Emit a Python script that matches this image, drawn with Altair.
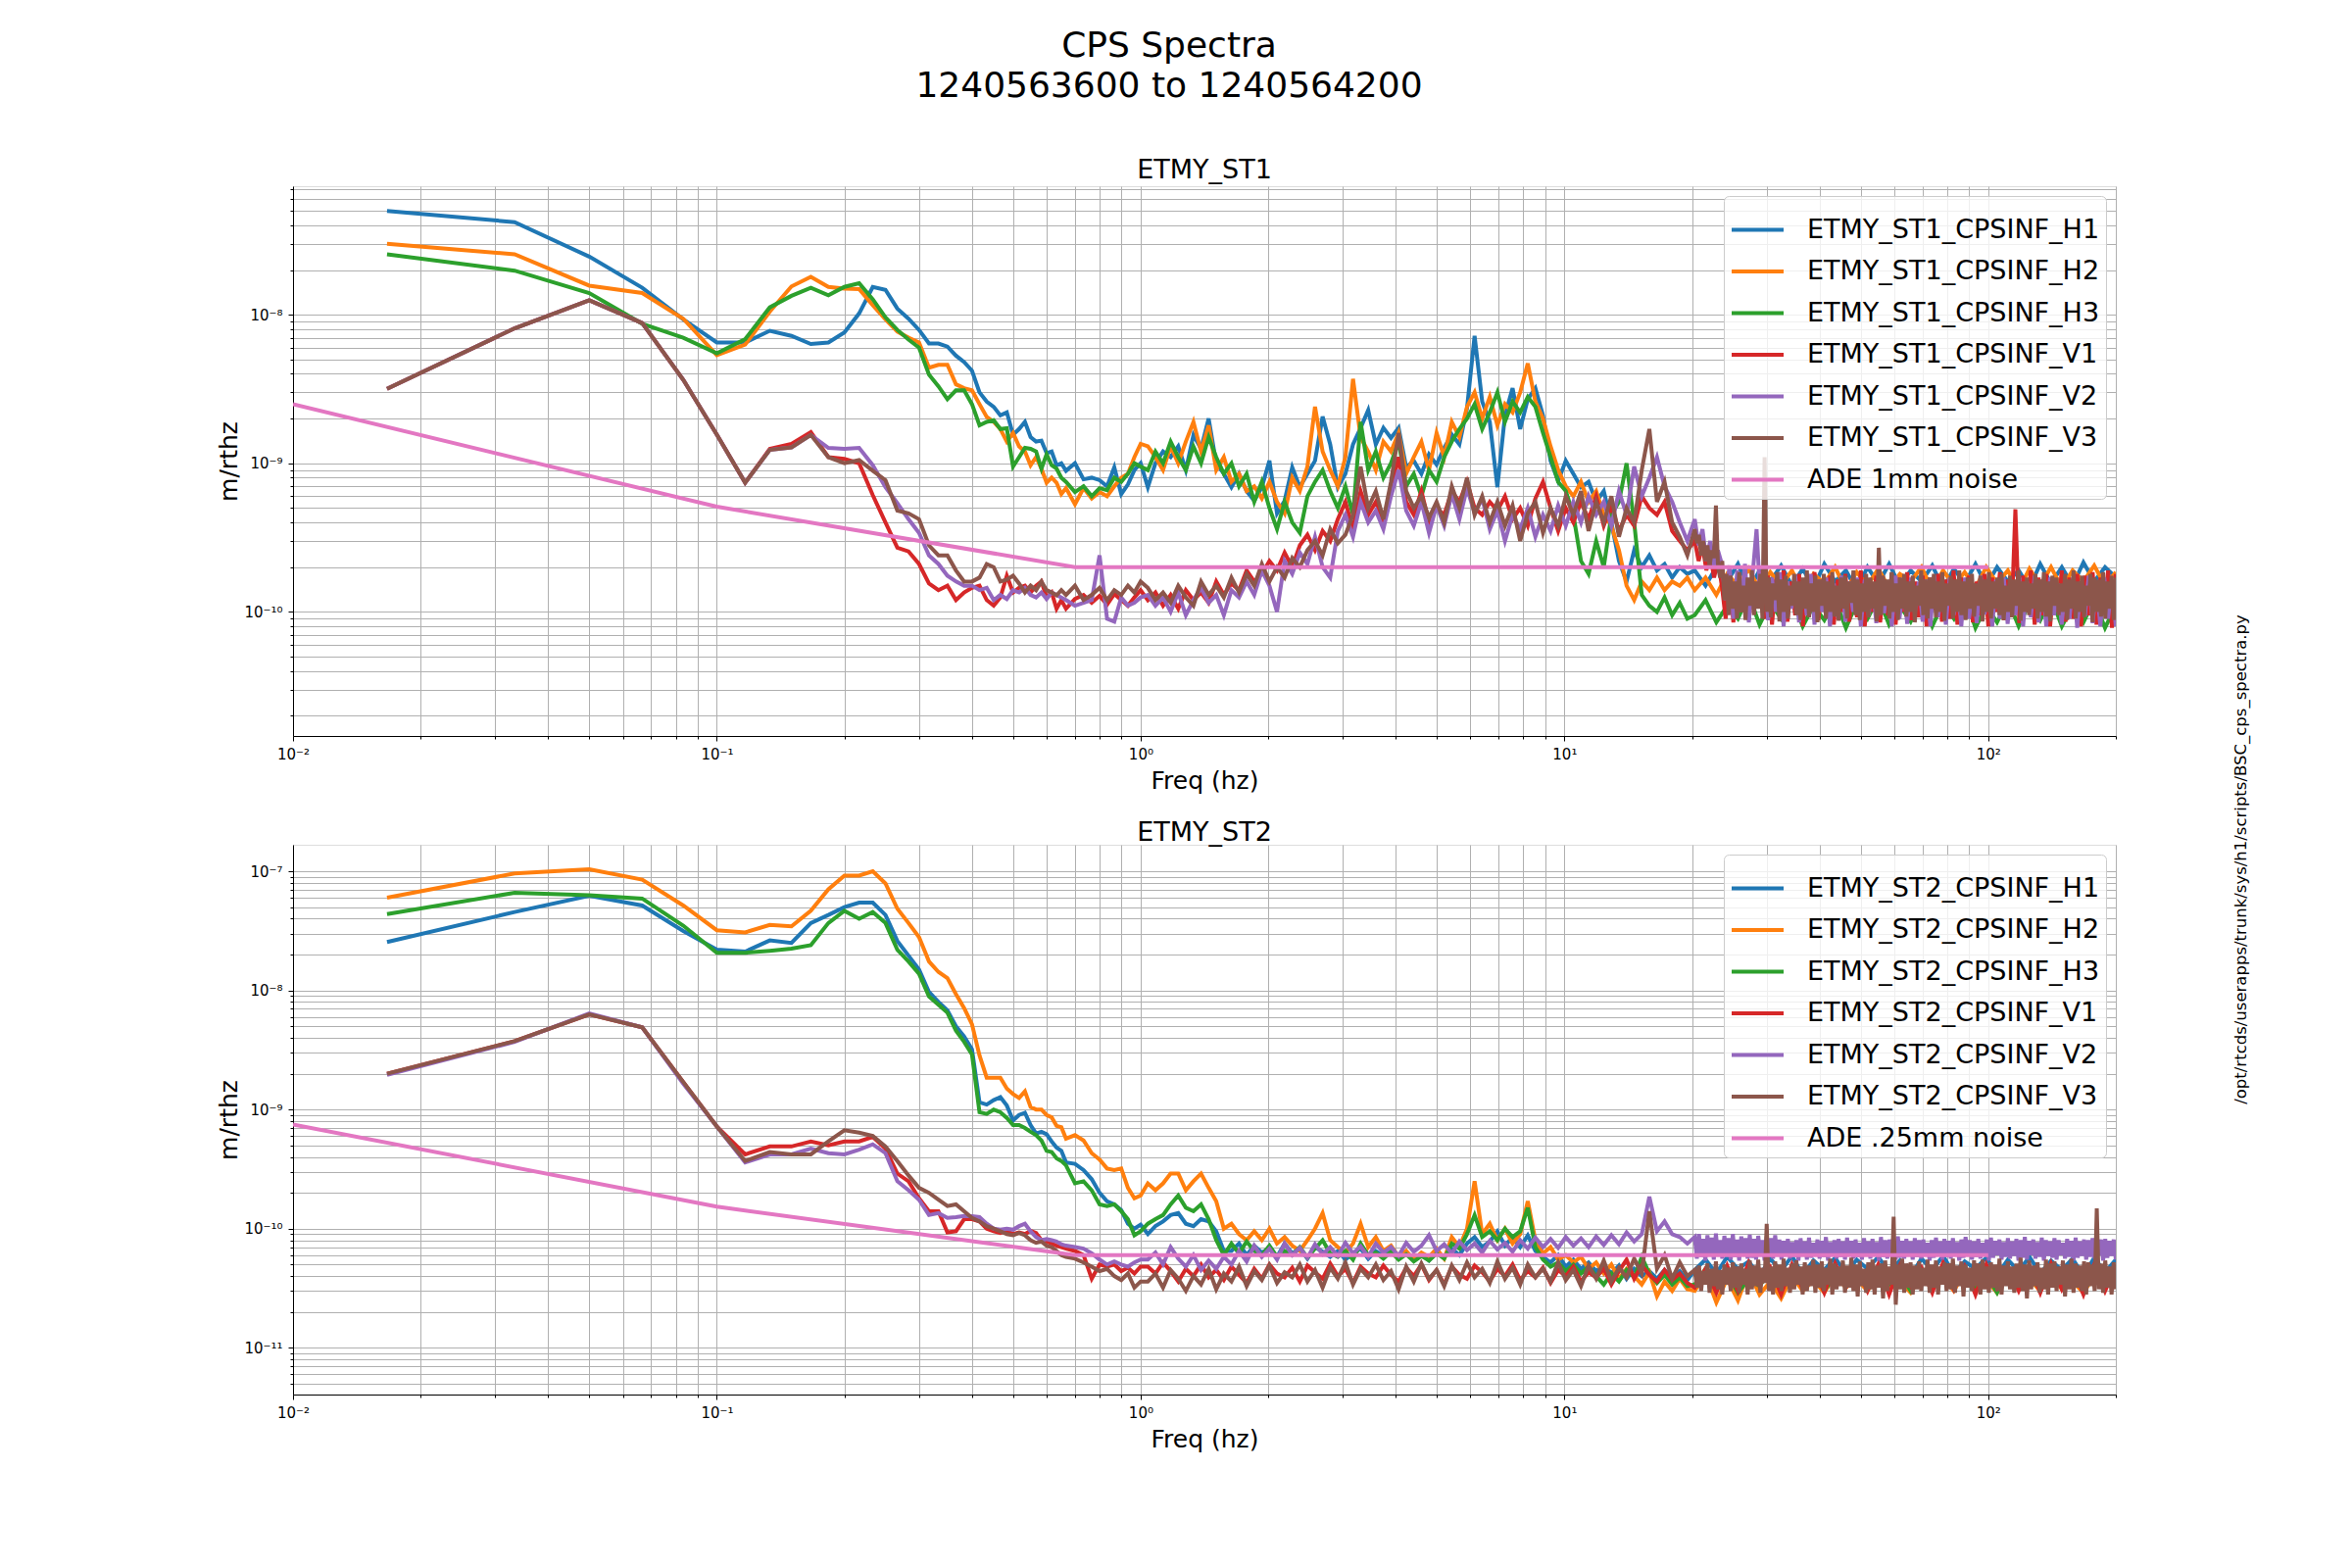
import altair as alt
import numpy as np
import pandas as pd

FONT = "DejaVu Sans"
TITLE_LINES = ["CPS Spectra", "1240563600 to 1240564200"]
SCRIPT_PATH = "/opt/rtcds/userapps/trunk/sys/h1/scripts/BSC_cps_spectra.py"
COLORS = ["#1f77b4", "#ff7f0e", "#2ca02c", "#d62728", "#9467bd", "#8c564b", "#e377c2"]

ST1_NAMES = ["ETMY_ST1_CPSINF_H1", "ETMY_ST1_CPSINF_H2", "ETMY_ST1_CPSINF_H3",
             "ETMY_ST1_CPSINF_V1", "ETMY_ST1_CPSINF_V2", "ETMY_ST1_CPSINF_V3", "ADE 1mm noise"]
ST2_NAMES = ["ETMY_ST2_CPSINF_H1", "ETMY_ST2_CPSINF_H2", "ETMY_ST2_CPSINF_H3",
             "ETMY_ST2_CPSINF_V1", "ETMY_ST2_CPSINF_V2", "ETMY_ST2_CPSINF_V3", "ADE .25mm noise"]

# frequency bins: 1/60 Hz resolution up to 0.667 Hz, then every 1/30 Hz up to 1 Hz
FREQ_A = [k / 60 for k in range(1, 41)] + [k / 30 for k in range(21, 31)]
B_RANGE = (1.04, 19.5)    # mid band, log-spaced samples
C_RANGE = (20.3, 200.0)   # high band, log-spaced samples

# ---------------- ETMY_ST1 (values in units of 1e-10 m/rthz) ----------------
ST1_H1_A = [500, 420, 246, 152, 93, 65, 65, 78, 72, 63.5, 65, 76, 102, 154, 147, 110, 94, 79, 64, 64,
            61, 53, 48, 42, 30, 26, 24, 21, 22, 15.6, 17, 19, 15, 14, 14.2, 11.7, 12, 9.7, 10, 8.9,
            10, 7.8, 8, 7.7, 7, 9.4, 6.2, 7.2, 9, 10]
ST1_H2_A = [300, 255, 157, 140, 94, 53.5, 63, 105, 155, 180, 154, 150, 149, 116, 93, 77, 70, 65, 44, 46,
            46, 34, 32, 31, 25, 20.5, 19, 17, 14, 16, 13, 12, 9.7, 11, 9.2, 7.4, 8, 7.4, 6.2, 6.8,
            5.3, 6.8, 5.8, 6.4, 6, 7, 8, 8.5, 11, 13.5]
ST1_H3_A = [255, 198, 140, 87, 70, 55, 68.5, 112, 134, 152, 135, 154, 163, 127, 96, 79, 68, 60, 39.5, 33,
            27, 31, 31, 25, 18, 19, 19.5, 17, 17.2, 9.5, 11, 12.7, 12.5, 12, 9.2, 11.5, 9.7, 9.2, 8, 7.5,
            6.4, 7, 6, 6.8, 6.6, 8, 7.5, 8.5, 10, 9.5]
ST1_V1_A = [31.7, 81, 125, 88, 36.5, 15.6, 7.4, 12.5, 13.5, 16.2, 11.0, 10.7, 10.0, 6.1, 4.0, 2.7, 2.55, 2.1, 1.55, 1.4,
            1.5, 1.2, 1.35, 1.45, 1.5, 1.2, 1.1, 1.25, 1.75, 1.35, 1.45, 1.5, 1.35, 1.5, 1.6, 1.25, 1.35, 1.05, 1.2, 1.05,
            1.22, 1.3, 1.15, 1.28, 1.12, 1.32, 1.2, 1.1, 1.25, 1.4]
ST1_V2_A = [31.7, 81, 125, 88, 36.5, 15.6, 7.4, 12.3, 12.8, 15.5, 12.7, 12.5, 12.7, 9.7, 6.9, 5.4, 4.2, 3.4, 2.4, 2.1,
            1.75, 1.6, 1.5, 1.5, 1.4, 1.45, 1.2, 1.3, 1.22, 1.4, 1.35, 1.45, 1.3, 1.25, 1.35, 1.22, 1.35, 1.3, 1.25, 1.2,
            1.1, 1.15, 1.2, 2.4, 0.9, 0.86, 1.25, 1.1, 1.15, 1.25]
ST1_V3_A = [31.7, 81, 125, 88, 36.5, 15.6, 7.4, 12.3, 12.8, 15.5, 11.0, 10.0, 10.5, 8.9, 7.7, 4.8, 4.6, 4.2, 2.8, 2.4,
            2.4, 1.9, 1.6, 1.6, 1.7, 2.1, 2.0, 1.6, 1.65, 1.75, 1.55, 1.35, 1.5, 1.4, 1.6, 1.4, 1.35, 1.29, 1.4, 1.3,
            1.5, 1.2, 1.3, 1.45, 1.2, 1.4, 1.3, 1.5, 1.35, 1.6]

ST1_H1_B = [6.9, 10, 12, 11, 13, 9, 15.5, 12.5, 20, 10, 8.5, 6.9, 8.5, 6.5, 5.6, 6.9, 10.4, 4.6, 5.6, 9.4,
            6.9, 8.5, 10.4, 20.6, 13.4, 6.9, 8.5, 13.4, 17.3, 22.8, 13.4, 17.3, 14.8, 17.3, 9.4, 10.4, 8.5, 11.5, 9.8, 12.7,
            15.6, 13.4, 23.4, 72, 26, 19, 6.9, 21, 32, 17, 27, 32, 21, 10.4, 7.6, 10.4, 8.5, 6.9, 7.5, 5.5,
            6.5, 4.0, 2.2, 1.6, 2.6, 2.0, 2.4, 1.9, 2.1, 1.7, 2.0, 1.8]
ST1_H2_B = [13, 11, 9, 13, 10, 14, 19, 12, 18, 9, 11, 7.5, 8.5, 6.5, 7.0, 5.8, 7.5, 5.5, 4.6, 8,
            6.5, 9.5, 24, 12, 9, 7, 11, 37, 15, 12, 9, 14, 12, 16, 8.5, 11, 14, 9, 16, 11,
            19, 15, 24, 30, 20, 28, 18, 25, 22, 30, 47, 26, 20, 13, 9, 7, 6, 7.5, 5.5, 6.5,
            4.5, 3.8, 2.6, 1.5, 1.2, 1.6, 1.4, 1.7, 1.4, 1.6, 1.5, 1.7]
ST1_H3_B = [9, 12, 10, 14, 11, 9, 13, 10, 15, 11, 8.5, 10, 7, 8.5, 5.5, 7.5, 5.0, 3.6, 5.5, 4.0,
            3.4, 6, 7.5, 9, 6.5, 5, 7, 4.5, 19, 9, 12, 8, 10, 14, 7, 8.5, 6, 9, 7.5, 11,
            14, 17, 20, 25, 17, 22, 30, 19, 26, 22, 28, 24, 16, 11, 7.5, 6.5, 4.5, 2.2, 1.8, 3.0,
            2.0, 4.5, 5.5, 10, 4, 1.3, 1.1, 1.0, 1.25, 0.95, 1.15, 0.9]
ST1_V1_B = [1.2, 1.35, 1.1, 1.3, 1.05, 1.4, 1.2, 1.35, 1.15, 1.6, 1.3, 1.55, 1.4, 1.9, 1.6, 1.8, 2.2, 1.9, 2.5, 2.0,
            2.8, 3.3, 2.6, 3.5, 3.0, 4.2, 5.5, 3.6, 6.5, 4.5, 5.5, 4.0, 6.5, 11, 5.5, 4.5, 6.5, 4.0, 5.0, 4.5,
            6.5, 5.5, 7.5, 5.0, 4.5, 5.5, 4.8, 6, 4.2, 5, 3.8, 5.8, 7.5, 5, 3.5, 5, 4, 5.5, 4.2, 6.0,
            3.8, 5.2, 3.5, 4.5, 3.8, 6, 5, 4.5, 5.5, 3.5, 3.0, 2.6]
ST1_V2_B = [1.3, 1.1, 1.25, 1.0, 1.35, 0.95, 1.2, 1.45, 1.15, 1.3, 0.95, 1.4, 1.25, 1.6, 1.3, 1.9, 1.5, 1.0, 2.2, 1.8,
            2.5, 2.1, 3.2, 2.0, 1.7, 3.5, 4.5, 3.2, 5.5, 4.0, 4.8, 3.6, 6.0, 9, 4.8, 3.8, 5.5, 3.4, 5.2, 3.8,
            6.2, 4.2, 6.8, 4.6, 5.8, 3.6, 4.8, 3.0, 4.5, 3.6, 5, 3.2, 4.5, 3.5, 5.2, 3.8, 5.5, 4.0, 6.0, 4.5,
            5.5, 3.8, 6.5, 4.5, 9.5, 6, 8, 11, 7, 5.5, 4.0, 3.0]
ST1_V3_B = [1.45, 1.2, 1.35, 1.15, 1.5, 1.25, 1.1, 1.6, 1.3, 1.5, 1.25, 1.7, 1.35, 1.8, 1.5, 2.1, 1.6, 2.0, 1.7, 2.3,
            2.0, 2.6, 3.0, 2.4, 3.6, 2.9, 3.3, 4.5, 9.5, 5.0, 6.5, 4.2, 7.5, 16, 6.5, 5.0, 6.0, 4.3, 5.5, 4.0,
            7.0, 5.0, 8.0, 4.5, 6.0, 4.0, 5.5, 3.8, 5.2, 3.0, 4.6, 5.5, 3.4, 5.0, 3.8, 6.0, 4.5, 6.5, 3.5, 5.5,
            4.0, 6.0, 3.2, 5.0, 4.0, 9.0, 17, 5.5, 7.5, 4.0, 3.2, 2.4]

ST1_H1_C = [1.9, 1.5, 2.0, 1.6, 2.1, 1.4, 1.9, 1.6, 2.05, 1.5, 1.95, 1.45, 2.1, 1.6, 1.9, 1.4, 2.0, 1.55, 2.1, 1.5,
            1.9, 1.6, 2.05, 1.45, 1.95, 1.55, 2.1, 1.5, 2.0, 1.6, 1.9, 1.45, 2.1, 1.55, 2.0, 1.5, 2.15, 1.6, 2.0, 1.7]
ST1_H2_C = [1.4, 1.7, 1.3, 1.8, 1.5, 1.95, 1.4, 1.85, 1.5, 1.9, 1.35, 1.8, 1.55, 2.0, 1.4, 1.85, 1.5, 1.95, 1.45, 1.8,
            1.6, 2.0, 1.4, 1.9, 1.5, 1.85, 1.45, 2.0, 1.55, 1.9, 1.4, 1.95, 1.5, 2.0, 1.45, 1.9, 1.6, 2.05, 1.5, 1.85]
ST1_H3_C = [0.95, 1.2, 0.85, 1.1, 0.9, 1.3, 0.82, 1.15, 0.9, 1.25, 0.8, 1.1, 0.88, 1.2, 0.78, 1.15, 0.9, 1.25, 0.82, 1.1,
            0.86, 1.2, 0.8, 1.15, 0.9, 1.3, 0.78, 1.1, 0.85, 1.2, 0.8, 1.15, 0.88, 1.25, 0.8, 1.1, 0.85, 1.2, 0.78, 1.1]
ST1_V1_C = [3.0, 2.2, 2.8, 1.9, 2.4, 1.7, 2.2, 1.5, 0.9, 1.8, 0.85, 1.7, 1.0, 1.85, 0.88, 1.6, 1.1, 1.9, 0.9, 1.75,
            0.82, 1.65, 1.0, 1.9, 0.86, 1.6, 0.95, 1.8, 0.8, 1.7, 1.05, 1.85, 0.88, 1.6, 0.95, 1.75, 0.82, 1.65, 1.0, 1.8,
            0.86, 1.7, 0.92, 1.9, 0.8, 1.6, 1.0, 1.75, 0.85, 1.65, 0.95, 1.8, 0.82, 1.7, 1.0, 1.85, 0.88, 1.6, 0.92, 1.75,
            0.8, 1.7, 1.02, 1.8, 0.86, 1.65, 0.9, 1.9, 0.82, 1.7, 1.0, 1.75, 0.85, 1.6, 0.95, 1.8, 0.8, 1.7, 1.0, 1.85,
            0.88, 1.65, 0.92, 4.9, 0.84, 1.75, 1.0, 1.9, 0.82, 1.7, 0.95, 1.8, 0.8, 1.65, 1.0, 1.9, 0.86, 1.7, 0.9, 1.8,
            0.8, 1.75, 0.95, 1.85, 0.82, 1.7, 1.0, 1.9, 0.78, 1.8]
ST1_V2_C = [4.2, 2.8, 3.6, 2.2, 3.0, 2.0, 2.6, 2.1, 1.2, 2.05, 0.9, 1.9, 1.1, 2.1, 0.85, 1.8, 3.6, 1.2, 1.9, 0.88,
            1.7, 1.0, 1.85, 0.8, 1.6, 1.05, 1.75, 0.85, 1.6, 0.95, 1.8, 0.82, 1.65, 1.0, 1.7, 0.8, 1.55, 0.92, 1.75, 0.86,
            1.6, 1.0, 1.7, 0.8, 1.65, 0.95, 1.55, 0.84, 1.7, 0.98, 1.6, 0.8, 1.75, 0.9, 1.55, 0.83, 1.7, 1.0, 1.6, 0.86,
            1.65, 0.8, 1.75, 0.92, 1.55, 0.82, 1.7, 0.95, 1.6, 0.8, 1.7, 0.9, 1.55, 0.84, 1.75, 0.96, 1.6, 0.8, 1.65, 0.9,
            1.7, 0.83, 1.55, 0.95, 1.7, 0.8, 1.6, 0.92, 1.75, 0.85, 1.6, 0.8, 1.7, 0.95, 1.55, 0.82, 1.65, 0.9, 1.7, 0.78,
            1.6, 0.93, 1.75, 0.84, 1.55, 0.8, 1.7, 0.9, 1.6, 0.8]
ST1_V3_C = [3.6, 2.9, 3.3, 2.4, 3.0, 2.2, 2.8, 2.0, 2.6, 2.3,
            5.2, 2.0, 1.7, 2.2, 1.2, 1.8, 0.95, 1.75, 1.05, 1.6,
            0.9, 1.85, 1.0, 1.5, 0.88, 1.7, 1.1, 1.9, 0.95, 1.6,
            1.05, 1.8, 0.9, 11.0, 1.0, 1.7, 0.92, 1.55, 1.2, 1.85,
            0.86, 1.65, 1.0, 1.75, 0.9, 1.5, 1.1, 1.8, 0.95, 1.6,
            0.88, 1.7, 1.05, 1.9, 0.92, 1.55, 1.0, 1.75, 0.85, 1.65,
            1.1, 1.8, 0.9, 1.6, 1.0, 1.85, 0.93, 1.5, 0.87, 1.7,
            1.05, 1.75, 0.9, 1.6, 1.15, 1.9, 0.95, 1.65, 0.88, 1.55,
            1.0, 1.8, 0.92, 1.7, 1.05, 1.6, 0.86, 2.7, 0.95, 1.75,
            1.1, 1.65, 0.9, 1.85, 1.0, 1.55, 0.88, 1.7, 1.05, 1.8,
            0.93, 1.6, 1.0, 1.75, 0.85, 1.5, 1.1, 1.9, 0.95, 1.65,
            0.9, 1.7, 1.05, 1.8, 0.92, 1.6, 1.0, 1.85, 0.87, 1.55,
            1.1, 1.75, 0.9, 1.65, 1.0, 1.9, 0.95, 1.6, 0.88, 1.7,
            1.05, 1.8, 0.93, 1.55, 1.1, 1.75, 0.86, 1.65, 1.0, 1.85,
            0.9, 1.6, 1.05, 1.7, 0.95, 1.8, 0.88, 1.5, 1.0, 1.75,
            0.92, 1.65, 1.1, 1.9, 0.87, 1.6, 1.0, 1.7, 0.95, 1.55,
            1.05, 1.8, 0.9, 1.65, 1.0, 1.85, 0.93, 1.6, 0.86, 1.75,
            1.1, 1.7, 0.95, 1.55, 1.0, 1.8, 0.88, 1.65, 1.05, 1.9,
            0.9, 1.6, 1.0, 1.75, 0.92, 1.5, 1.1, 1.8, 0.85, 1.7,
            1.0, 1.65, 0.93, 1.85, 0.9, 1.6, 1.05, 1.75, 0.88, 1.7]

# ---------------- ETMY_ST2 (values in units of 1e-11 m/rthz) ----------------
ST2_H1_A = [2550, 4550, 6240, 5160, 3150, 2200, 2120, 2630, 2500, 3680, 4300, 5000, 5460, 5460, 4300, 2600, 1960, 1500, 970, 800,
            680, 500, 410, 320, 115, 110, 120, 127, 108, 81, 90, 94, 74, 63, 65, 62, 54, 48, 45, 36,
            35, 31, 26, 20, 17, 16, 14.3, 11, 10, 10.8]
ST2_H2_A = [6000, 9600, 10400, 8500, 5160, 3200, 3070, 3550, 3450, 4660, 7070, 9200, 9200, 10000, 7900, 4850, 3680, 2800, 1750, 1430,
            1270, 930, 710, 520, 285, 185, 185, 185, 150, 135, 125, 142, 105, 100, 100, 90, 86, 73, 71, 57,
            61, 55, 43, 38, 32, 31, 32, 22, 18, 19]
ST2_H3_A = [4370, 6600, 6300, 5900, 3500, 2070, 2070, 2150, 2240, 2400, 3680, 4660, 4000, 4550, 3680, 2200, 1750, 1380, 890, 760,
            650, 460, 370, 290, 95, 92, 100, 95, 85, 74, 74, 70, 65, 61, 55, 45, 44, 39, 37, 34,
            24, 25, 21, 16, 15.5, 16, 14, 12, 8.8, 9.5]
ST2_V1_A = [200, 375, 630, 490, 170, 72, 42, 49, 49, 54, 50, 54, 54, 59, 47, 29, 25, 18, 14, 14,
            9.3, 9.5, 12, 12, 11.5, 10, 9.5, 9.2, 9.6, 9.0, 9.3, 9.0, 9.6, 9.2, 8.0, 7.8, 7.5, 7.2, 7.0, 6.8,
            6.5, 6.0, 3.8, 5.0, 4.8, 5.0, 4.4, 4.7, 4.2, 4.8]
ST2_V2_A = [195, 370, 640, 490, 165, 72, 36, 42, 42, 47, 43, 42, 46, 51, 43, 25, 21, 17.5, 13, 13.5,
            12.3, 12.5, 12.8, 12.7, 12.5, 11, 10, 9.8, 10, 9.8, 10.5, 11, 9.5, 8.5, 8.0, 8.2, 8.0, 7.8, 7.4, 7.2,
            7.0, 6.8, 6.2, 5.5, 5.0, 5.3, 5.0, 4.8, 5.2, 5.5]
ST2_V3_A = [200, 375, 630, 490, 170, 72, 37, 44, 42, 42, 54, 67, 64, 60, 49, 37, 28, 22, 20, 17.5,
            15.5, 16, 14, 12.3, 11.5, 10.5, 10, 9.5, 9.0, 8.8, 9.2, 8.8, 8.0, 7.6, 7.8, 7.2, 7.0, 6.5, 6.0, 5.8,
            5.6, 5.2, 4.8, 4.4, 4.6, 4.0, 3.7, 4.2, 3.2, 3.6]

ST2_H1_B = [9, 10.5, 11.5, 13, 13.5, 11, 10.5, 12, 11.5, 9.5, 6.5, 6.5, 7.5, 6, 7.2, 6.3, 6.8, 5.8, 7.5, 6.2,
            6.8, 5.6, 7, 6.4, 5.8, 6.5, 5.5, 6.2, 6.8, 5.6, 6.5, 5.9, 6.6, 5.7, 6.4, 5.5, 6.2, 5.4, 6.3, 5.8,
            6.8, 6, 7.5, 8.5, 7, 7.8, 9.5, 7.2, 8.5, 7, 8.8, 6.5, 5.8, 5.2, 6, 4.8, 5.5, 4.6, 5.2, 4.4,
            5, 4.2, 4.9, 3.8, 4.6, 4.0, 4.4, 3.8, 4.5, 3.9, 4.4, 3.7]
ST2_H2_B = [24, 21, 24, 29, 29, 21, 25, 29, 22, 17, 10, 11, 9, 8, 9.5, 8, 10, 7.5, 8.5, 7.2,
            6.5, 8, 10, 13.5, 8, 7, 6.3, 7.5, 11, 7, 8.5, 6.5, 7.2, 5.8, 6.5, 5.5, 6.3, 5.8, 6.8, 5.6,
            8.5, 7, 10, 25, 9, 11, 8, 10, 7.5, 9, 17, 8, 6.2, 7, 5.5, 6, 5.2, 5.8, 4.6, 5.2,
            4.2, 5, 3.8, 4.6, 4.0, 3.4, 4.3, 2.7, 3.6, 3.0, 3.8, 3.1]
ST2_H3_B = [11, 12, 13, 16, 19, 15, 14, 16, 12, 8, 6, 7.5, 6.2, 7.8, 6.5, 6, 7.2, 5.8, 6.5, 6,
            7, 5.7, 6.8, 8, 6.2, 5.8, 6.5, 5.5, 7.5, 6, 6.3, 5.6, 6.4, 5.5, 6.1, 5.3, 5.9, 5.4, 6.2, 5.6,
            7.5, 6.8, 9, 13, 8.5, 9.5, 8, 10, 8.5, 9.5, 15, 7, 5.5, 4.8, 5.2, 4.4, 5.0, 4.2, 4.8, 4.0,
            3.4, 4.2, 3.6, 4.5, 3.9, 5.8, 4.2, 3.5, 4.1, 3.4, 3.9, 3.3]
ST2_V1_B = [4.8, 4.2, 5.2, 4.4, 3.6, 4.6, 4.0, 5.0, 3.9, 4.5, 3.7, 4.8, 4.1, 3.5, 4.6, 3.8, 5.0, 4.2, 3.9, 4.7,
            3.6, 4.9, 4.3, 3.8, 5.1, 4.0, 4.6, 3.5, 4.8, 4.2, 3.9, 4.9, 4.1, 3.6, 4.7, 4.0, 5.0, 3.7, 4.5, 3.4,
            4.8, 4.1, 3.8, 4.9, 4.3, 3.6, 4.6, 4.0, 5.0, 3.7, 4.4, 3.9, 4.7, 3.5, 4.5, 4.0, 4.8, 3.6, 4.3, 3.9,
            4.6, 3.4, 4.4, 5.5, 3.8, 4.9, 4.1, 3.6, 4.5, 3.7, 4.2, 3.5]
ST2_V2_B = [5.5, 6.3, 5.0, 7.0, 5.6, 4.8, 6.0, 4.5, 5.4, 4.6, 5.8, 5.0, 6.5, 5.3, 7.2, 5.8, 6.8, 5.5, 7.5, 6.0,
            6.9, 5.7, 7.4, 6.1, 7.0, 5.9, 7.6, 6.2, 7.1, 5.8, 7.5, 6.3, 7.0, 5.9, 7.6, 6.4, 7.2, 8.8, 6.5, 7.4,
            6.2, 7.8, 6.6, 7.5, 6.3, 7.9, 6.7, 7.6, 6.4, 8.0, 6.8, 8.4, 7.0, 8.2, 6.9, 8.5, 7.2, 8.3, 7.0, 8.6,
            7.3, 8.8, 7.4, 9.3, 7.8, 9.0, 18.5, 9.5, 11.5, 9.0, 8.5, 7.5]
ST2_V3_B = [3.6, 4.2, 3.2, 4.5, 3.8, 3.0, 4.0, 3.4, 4.6, 3.1, 4.2, 3.6, 4.8, 3.3, 4.4, 3.7, 4.9, 3.5, 4.3, 3.9,
            5.0, 3.6, 4.5, 3.2, 4.7, 3.8, 5.2, 3.4, 4.6, 3.9, 5.0, 3.7, 4.4, 3.1, 4.8, 3.6, 5.1, 3.8, 4.5, 3.3,
            4.9, 3.7, 5.2, 3.9, 4.6, 3.5, 5.3, 3.8, 4.7, 3.4, 5.0, 3.9, 4.6, 3.6, 5.2, 3.7, 4.5, 3.3, 4.9, 3.8,
            5.4, 3.6, 4.7, 3.9, 5.6, 4.2, 14, 4.6, 6.0, 3.8, 5.2, 4.0]

ST2_H1_C = [4.5, 5.5, 4.2, 5.8, 4.6, 5.3, 4.0, 5.6, 4.4, 5.9, 4.1, 5.4, 4.5, 5.7, 4.2, 5.5, 4.6, 5.8, 4.3, 5.4,
            4.0, 5.6, 4.5, 5.9, 4.2, 5.3, 4.6, 5.7, 4.1, 5.5, 4.4, 5.8, 4.2, 5.4, 4.5, 5.6, 4.0, 5.7, 4.3, 5.5]
ST2_H2_C = [3.0, 4.2, 2.4, 3.8, 2.5, 4.4, 2.8, 3.6, 2.6, 4.0, 3.0, 3.7, 2.9, 4.1, 3.2, 3.8, 3.0, 4.2, 3.3, 3.6,
            2.9, 4.0, 3.1, 3.9, 3.0, 4.3, 3.2, 3.7, 2.9, 4.1, 3.3, 3.8, 3.0, 4.2, 3.1, 3.6, 2.9, 4.0, 3.2, 3.9]
ST2_H3_C = [3.4, 4.6, 3.0, 4.2, 2.9, 3.8, 3.3, 4.4, 3.1, 4.0, 3.4, 4.3, 3.0, 4.1, 3.3, 4.5, 3.1, 3.9, 3.4, 4.2,
            3.0, 4.4, 3.2, 4.0, 3.4, 4.3, 3.1, 4.1, 2.9, 4.5, 3.3, 4.0, 3.1, 4.2, 3.4, 4.4, 3.0, 4.1, 3.2, 4.3]
ST2_V1_C = [3.2, 4.6, 2.9, 4.9, 3.0, 5.2, 3.3, 4.7, 2.8, 5.0, 3.1, 4.8, 2.9, 5.1, 3.2, 4.6, 3.0, 5.0, 2.8, 4.9,
            3.3, 4.7, 2.9, 5.2, 3.1, 4.8, 2.8, 5.0, 3.2, 4.6, 3.0, 4.9, 2.9, 5.1, 3.1, 4.7, 2.8, 5.0, 3.0, 4.8]
ST2_V2_C = [8.5, 5.6, 9.0, 5.8, 8.2, 5.4, 8.8, 6.0, 8.4, 5.5,
            9.1, 5.9, 8.0, 5.6, 8.7, 6.1, 8.3, 5.5, 9.0, 5.8,
            8.1, 5.4, 8.6, 6.0, 8.3, 5.6, 8.9, 5.7, 8.2, 5.5,
            8.7, 6.0, 8.0, 5.4, 8.6, 5.8, 8.3, 5.6, 8.8, 5.9,
            8.1, 5.5, 7.9, 6.0, 8.2, 5.6, 7.7, 5.8, 8.0, 5.4,
            8.3, 5.9, 7.8, 5.5, 8.4, 5.7, 7.6, 6.0, 8.1, 5.6,
            7.9, 5.8, 8.5, 5.4, 7.7, 5.9, 8.0, 5.6, 8.2, 5.8,
            7.8, 5.5, 8.4, 6.0, 7.9, 5.6, 8.1, 5.8, 7.6, 5.5,
            8.3, 5.9, 7.8, 5.6, 8.2, 6.0, 7.7, 5.4, 8.5, 5.8,
            8.0, 5.6, 8.1, 5.9, 7.7, 5.5, 8.6, 5.7, 7.9, 5.6,
            8.2, 6.0, 7.8, 5.5, 8.3, 5.8, 8.0, 5.6, 8.1, 5.9,
            7.6, 5.4, 8.0, 5.7, 8.4, 6.0, 7.8, 5.5, 8.2, 5.8,
            7.9, 5.6, 8.3, 5.9, 7.7, 5.4, 8.1, 5.7, 8.5, 6.0,
            8.0, 5.5, 7.8, 5.8, 8.2, 5.6, 7.6, 5.9, 8.1, 5.4,
            8.4, 5.7, 7.9, 6.0, 8.1, 5.5, 7.7, 5.8, 8.3, 5.6,
            7.8, 5.9, 8.2, 5.4, 8.0, 5.7, 8.5, 5.5, 7.9, 6.0,
            8.1, 5.6, 7.7, 5.8, 8.4, 5.4, 8.0, 5.9, 7.8, 5.7,
            8.3, 5.5, 8.0, 6.0, 7.6, 5.6, 8.2, 5.8, 7.9, 5.4,
            8.4, 5.7, 7.8, 5.9, 8.1, 5.5, 8.0, 5.8, 8.3, 5.6,
            7.7, 6.0, 8.1, 5.4, 8.2, 5.7, 7.9, 5.9, 8.1, 5.5]
ST2_V3_C = [4.5, 3.2, 4.9, 3.0, 4.4, 3.4, 5.1, 2.9, 4.6, 3.3,
            5.3, 3.1, 4.5, 2.8, 5.0, 3.4, 4.7, 3.0, 5.2, 3.2,
            4.8, 2.9, 5.1, 3.4, 4.6, 2.8, 5.4, 3.1, 4.9, 3.3,
            5.5, 2.9, 4.7, 3.5, 11.0, 3.0, 4.8, 2.8, 5.3, 3.2,
            5.0, 3.0, 5.6, 3.3, 4.7, 2.9, 5.1, 3.1, 5.4, 3.4,
            4.8, 2.8, 5.2, 3.0, 4.9, 3.3, 5.5, 2.9, 5.0, 3.2,
            5.3, 3.0, 4.7, 3.4, 5.6, 2.8, 5.1, 3.1, 4.8, 3.3,
            5.4, 2.9, 4.9, 3.2, 5.7, 3.0, 5.0, 2.7, 5.3, 3.3,
            4.6, 2.9, 5.2, 3.1, 5.5, 2.8, 4.9, 3.2, 5.1, 2.6,
            5.4, 3.0, 4.8, 3.4, 12.6, 2.3, 5.0, 3.1, 5.6, 2.9,
            5.1, 3.2, 5.2, 2.8, 4.9, 3.1, 5.3, 3.0, 4.7, 3.3,
            5.5, 2.9, 5.0, 3.2, 5.4, 2.8, 4.8, 3.4, 5.2, 3.0,
            5.1, 3.1, 5.6, 2.9, 4.9, 3.3, 5.3, 2.7, 5.0, 3.2,
            4.7, 3.0, 5.4, 3.3, 5.1, 2.8, 5.5, 3.1, 4.8, 2.9,
            5.2, 3.2, 5.0, 3.0, 5.6, 2.8, 4.9, 3.3, 5.3, 3.1,
            4.8, 2.9, 5.1, 3.2, 5.7, 3.0, 5.0, 2.6, 5.4, 3.1,
            4.9, 3.3, 5.2, 2.9, 4.7, 3.1, 5.5, 2.8, 5.1, 3.2,
            5.3, 3.0, 4.8, 3.4, 5.4, 2.7, 5.0, 3.1, 5.6, 2.9,
            5.1, 3.2, 4.9, 3.0, 5.3, 2.8, 5.2, 3.3, 5.0, 3.0,
            14.8, 3.1, 5.1, 2.9, 5.4, 3.2, 4.8, 2.8, 5.2, 3.1]

# ADE noise requirement curves
ADE_F = [0.01, 0.1, 0.7, 100.0]
ADE_ST1 = [2.5e-9, 5.1e-10, 2.0e-10, 2.0e-10]
ADE_ST2 = [7.5e-10, 1.53e-10, 6.0e-11, 6.0e-11]

ST1_YDOM = [1.46e-11, 7.33e-8]
ST2_YDOM = [4.05e-12, 1.67e-7]
X_DOM = [0.01, 200.0]

PLOT_W, PLOT_H = 1860, 561
LINE_W = 4


def build(a, b, c, unit):
    f = FREQ_A[:len(a)] + list(np.geomspace(B_RANGE[0], B_RANGE[1], len(b))) \
        + list(np.geomspace(C_RANGE[0], C_RANGE[1], len(c)))
    v = [x * unit for x in list(a) + list(b) + list(c)]
    return f, v


SUP = str.maketrans("-0123456789", "⁻⁰¹²³⁴⁵⁶⁷⁸⁹")


def log_axis(lo, hi, title):
    vals, majors = [], []
    for e in range(-13, 4):
        for m in range(1, 10):
            v = float(f"{m}e{e}")
            if lo * 0.999 <= v <= hi * 1.001:
                vals.append(v)
                if m == 1:
                    majors.append((v, e))
    expr = " : ".join(f"datum.value == {v!r} ? '10{str(e).translate(SUP)}'" for v, e in majors) + " : ''"
    test = " || ".join(f"datum.value == {v!r}" for v, e in majors)
    return alt.Axis(values=vals, labelExpr=expr,
                    tickSize={"condition": {"test": test, "value": 5}, "value": 3},
                    grid=True, gridColor="#b0b0b0", gridWidth=1,
                    labelFontSize=15, labelFont=FONT, labelColor="black",
                    labelOverlap=False, labelFlush=False, labelPadding=6,
                    tickColor="black", tickWidth=1, domainColor="black", domainWidth=1,
                    title=title, titleFontSize=25, titleFontWeight="normal", titleFont=FONT,
                    titleColor="black", titlePadding=2 if title == "m/rthz" else 7)


def panel(title, names, series, ade_vals, ydom, extra=None):
    xaxis = log_axis(X_DOM[0], X_DOM[1], "Freq (hz)")
    yaxis = log_axis(ydom[0], ydom[1], "m/rthz")
    legend = alt.Legend(orient="top-right", offset=10, padding=6,
                        fillColor="rgba(255,255,255,0.8)", strokeColor="#cccccc", cornerRadius=5,
                        symbolType="stroke", symbolStrokeWidth=4, symbolSize=2809,
                        labelFontSize=27, labelFont=FONT, labelColor="black", labelLimit=600,
                        rowPadding=0.5, labelOffset=22)
    color = alt.Color("series:N", scale=alt.Scale(domain=names, range=COLORS), legend=legend, title=None)
    x = alt.X("freq:Q", scale=alt.Scale(type="log", domain=X_DOM, nice=False), axis=xaxis)
    y = alt.Y("val:Q", scale=alt.Scale(type="log", domain=ydom, nice=False), axis=yaxis)
    layers = []
    all_series = list(series) + [(ADE_F, ade_vals)]
    for name, (f, v) in zip(names, all_series):
        df = pd.DataFrame({"freq": f, "val": v, "series": name})
        layers.append(alt.Chart(df).mark_line(strokeWidth=LINE_W, clip=True).encode(x=x, y=y, color=color))
    if extra is not None:
        layers.append(extra)
    return alt.layer(*layers).properties(
        width=PLOT_W, height=PLOT_H,
        title=alt.TitleParams(title, fontSize=27, font=FONT, fontWeight="normal", color="black",
                              anchor="middle", offset=-2))


u1, u2 = 1e-10, 1e-11
st1 = [build(ST1_H1_A, ST1_H1_B, ST1_H1_C, u1), build(ST1_H2_A, ST1_H2_B, ST1_H2_C, u1),
       build(ST1_H3_A, ST1_H3_B, ST1_H3_C, u1), build(ST1_V1_A, ST1_V1_B, ST1_V1_C, u1),
       build(ST1_V2_A, ST1_V2_B, ST1_V2_C, u1), build(ST1_V3_A, ST1_V3_B, ST1_V3_C, u1)]
st2 = [build(ST2_H1_A, ST2_H1_B, ST2_H1_C, u2), build(ST2_H2_A, ST2_H2_B, ST2_H2_C, u2),
       build(ST2_H3_A, ST2_H3_B, ST2_H3_C, u2), build(ST2_V1_A, ST2_V1_B, ST2_V1_C, u2),
       build(ST2_V2_A, ST2_V2_B, ST2_V2_C, u2), build(ST2_V3_A, ST2_V3_B, ST2_V3_C, u2)]

# script path annotation, vertical, to the right of the panels (attached below the top panel)
path_text = alt.Chart(pd.DataFrame({"t": [SCRIPT_PATH]})).mark_text(
    angle=270, fontSize=16.5, font=FONT, align="center", baseline="middle", color="black"
).encode(x=alt.value(1988), y=alt.value(687), text="t:N")

top = panel("ETMY_ST1", ST1_NAMES, st1, ADE_ST1, ST1_YDOM, extra=path_text)
bottom = panel("ETMY_ST2", ST2_NAMES, st2, ADE_ST2, ST2_YDOM)

chart = alt.vconcat(top, bottom, spacing=111, bounds="flush").resolve_scale(
    x="independent", y="independent", color="independent"
).resolve_legend(color="independent").properties(
    title=alt.TitleParams(TITLE_LINES, fontSize=36, font=FONT, fontWeight="normal", color="black",
                          lineHeight=41, anchor="middle", frame="group", offset=53, dx=-36),
    padding={"left": 213, "top": 20, "right": 5, "bottom": 5},
    background="white",
).configure_view(stroke="black", strokeWidth=1).configure(font=FONT)

chart.save("out.html", embed_options={"renderer": "svg", "actions": False})
